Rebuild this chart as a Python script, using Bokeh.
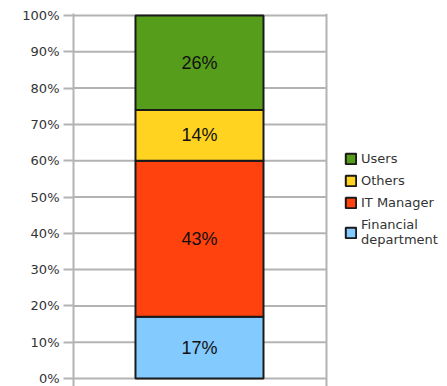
from bokeh.plotting import figure
from bokeh.models import (Range1d, FixedTicker, NumeralTickFormatter, Legend, LegendItem,
                          ColumnDataSource)
from bokeh.core.properties import value
from bokeh.embed import file_html
from bokeh.resources import INLINE

# data (bottom to top)
series = ["Financial department", "IT Manager", "Others", "Users"]
shares = [0.17, 0.43, 0.14, 0.26]
labels = ["17%", "43%", "14%", "26%"]
colors = ["#83caff", "#ff420e", "#ffd320", "#579d1c"]
legend_labels = ["Financial\ndepartment", "IT Manager", "Others", "Users"]
y_ticks = [0.0, 0.1, 0.2, 0.3, 0.4, 0.5, 0.6, 0.7, 0.8, 0.9, 1.0]

p = figure(frame_width=374, frame_height=373, output_backend="svg", toolbar_location=None,
           x_range=Range1d(0, 1.4783), y_range=Range1d(-0.022, 1.0055),
           x_axis_location=None, min_border_left=73, min_border_top=13,
           min_border_bottom=0, min_border_right=0)
p.outline_line_color = None

grid_col = "#b3b3b3"
p.yaxis.ticker = FixedTicker(ticks=y_ticks)
p.yaxis.formatter = NumeralTickFormatter(format="0%")
p.yaxis.axis_line_color = grid_col
p.yaxis.axis_line_width = 2
p.yaxis.major_tick_line_color = grid_col
p.yaxis.major_tick_line_width = 2
p.yaxis.major_tick_out = 10
p.yaxis.major_tick_in = 0
p.yaxis.minor_tick_line_color = None
p.yaxis.major_label_text_font = "DejaVu Sans"
p.yaxis.major_label_text_font_size = "13px"
p.yaxis.major_label_text_color = "#333333"
p.yaxis.major_label_standoff = 4

p.ygrid.visible = False
p.xgrid.ticker = FixedTicker(ticks=[1.0])
p.xgrid.grid_line_color = grid_col
p.xgrid.grid_line_width = 2

# horizontal gridlines limited to the category area
p.segment(x0=[0.0] * len(y_ticks), x1=[1.0] * len(y_ticks), y0=y_ticks, y1=y_ticks,
          line_color=grid_col, line_width=2)

bottoms = []
tops = []
acc = 0.0
for s in shares:
    bottoms.append(acc)
    acc += s
    tops.append(acc)

items = {}
for name, b, t, c, lab, ll in zip(series, bottoms, tops, colors, labels, legend_labels):
    r = p.vbar(x=[0.498], width=0.506, bottom=[b], top=[t], fill_color=c,
               line_color="#1a1a1a", line_width=2)
    items[name] = LegendItem(label=ll, renderers=[r])

mids = [(b + t) / 2 for b, t in zip(bottoms, tops)]
src = ColumnDataSource(dict(x=[0.498] * len(mids), y=mids, t=labels))
p.text(x="x", y="y", text="t", source=src, text_align="center", text_baseline="middle",
       text_font=value("Liberation Sans"), text_font_size="18px", text_color="#111111")

legend = Legend(items=[items["Users"], items["Others"], items["IT Manager"],
                       items["Financial department"]])
legend.location = (271, 139)
legend.border_line_color = None
legend.background_fill_alpha = 0
legend.glyph_width = 13
legend.glyph_height = 13
legend.label_standoff = 4
legend.spacing = 7
legend.padding = 0
legend.margin = 0
legend.label_text_font = "DejaVu Sans"
legend.label_text_font_size = "13px"
legend.label_text_color = "#333333"
legend.label_height = 13
p.add_layout(legend, "center")

open("out.html", "w").write(file_html(p, INLINE))
